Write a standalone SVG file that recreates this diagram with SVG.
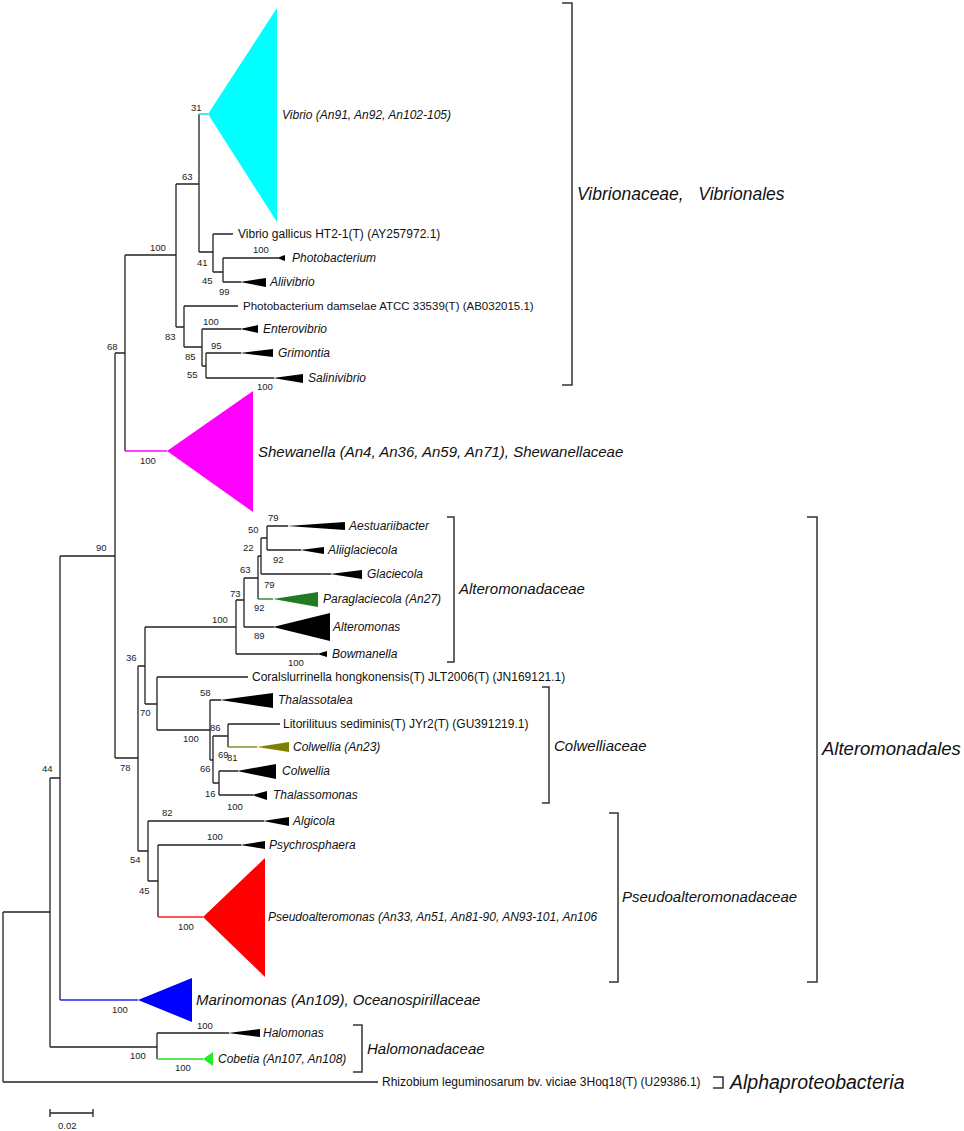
<svg xmlns="http://www.w3.org/2000/svg" width="964" height="1131" viewBox="0 0 964 1131">
<style>
.br{fill:none;stroke:#222;stroke-width:1.3}
.bk{fill:none;stroke:#333;stroke-width:1.5}
.bs{font-family:"Liberation Sans",Arial,sans-serif;font-size:9.5px;fill:#222}
.tx{font-family:"Liberation Sans",Arial,sans-serif;font-size:12px;font-style:italic;fill:#111}
.tn{font-family:"Liberation Sans",Arial,sans-serif;font-size:12px;fill:#111}
.big{font-family:"Liberation Sans",Arial,sans-serif;font-size:15px;font-style:italic;fill:#111}
.grp{font-family:"Liberation Sans",Arial,sans-serif;font-size:17.5px;font-style:italic;fill:#111}
</style>
<rect width="964" height="1131" fill="#fff"/>
<g id="connectors">
<path class="br" d="M3 912V1082M3 912H50M3 1082H378"/>
<path class="br" d="M50 778V1047M50 778H60M50 1047H157"/>
<path class="br" d="M60 556V1000M60 556H115"/>
<path class="br" d="M115 353V758M115 353H125M115 758H138"/>
<path class="br" d="M125 255V451M125 255H176"/>
<path class="br" d="M176 184V327M176 184H199M176 327H184"/>
<path class="br" d="M199 114V252M199 252H213"/>
<path class="br" d="M213 234V272M213 234H233M213 272H223"/>
<path class="br" d="M223 258V282M223 258H278M223 282H241"/>
<path class="br" d="M184 306V347M184 306H238M184 347H202"/>
<path class="br" d="M202 329V366M202 329H241M202 366H206"/>
<path class="br" d="M206 353V378M206 353H241M206 378H274"/>
<path class="br" d="M138 666V851M138 666H145M138 851H148"/>
<path class="br" d="M145 627V704M145 627H236M145 704H157"/>
<path class="br" d="M236 600V654M236 600H244M236 654H318"/>
<path class="br" d="M244 578V627M244 578H258M244 627H274"/>
<path class="br" d="M258 556V599M258 556H261"/>
<path class="br" d="M261 538V574M261 538H267M261 574H331"/>
<path class="br" d="M267 526V550M267 526H288M267 550H301"/>
<path class="br" d="M157 677V730M157 677H248M157 730H210"/>
<path class="br" d="M210 700V760M210 700H221M210 760H213"/>
<path class="br" d="M213 736V783M213 736H228M213 783H219"/>
<path class="br" d="M228 724V747M228 724H280"/>
<path class="br" d="M219 771V795M219 771H238M219 795H253"/>
<path class="br" d="M148 821V881M148 821H264M148 881H158"/>
<path class="br" d="M158 845V917M158 845H241"/>
<path class="br" d="M157 1033V1059M157 1033H229"/>
<path fill="none" stroke="#00e5ee" stroke-width="1.5" d="M199 114H208"/>
<path fill="none" stroke="#ff00ff" stroke-width="1.5" d="M125 451H167"/>
<path fill="none" stroke="#ff2020" stroke-width="1.5" d="M158 917H203"/>
<path fill="none" stroke="#2020ff" stroke-width="1.5" d="M60 1000H138"/>
<path fill="none" stroke="#22dd22" stroke-width="1.5" d="M157 1059H203"/>
<path fill="none" stroke="#1f7a1f" stroke-width="1.3" d="M258 599H273"/>
<path fill="none" stroke="#7a7a10" stroke-width="1.3" d="M228 747H257"/>
</g>
<g id="n-vibrio"><polygon points="208,114 277,8 277,222" fill="#00ffff"/><text class="tx" x="282" y="119">Vibrio (An91, An92, An102-105)</text></g>
<g id="n-vgallicus"><text class="tn" x="238" y="238">Vibrio gallicus HT2-1(T) (AY257972.1)</text></g>
<g id="n-photobacterium"><polygon points="277,258 285,255 285,261" fill="#000"/><text class="tx" x="292" y="262">Photobacterium</text></g>
<g id="n-aliivibrio"><polygon points="240,282 266,278 266,287" fill="#000"/><text class="tx" x="270" y="286">Aliivibrio</text></g>
<g id="n-pdamselae"><text class="tn" x="243" y="310" style="font-size:11.5px">Photobacterium damselae ATCC 33539(T) (AB032015.1)</text></g>
<g id="n-enterovibrio"><polygon points="240,329 258,325 258,333" fill="#000"/><text class="tx" x="263" y="333">Enterovibrio</text></g>
<g id="n-grimontia"><polygon points="240,353 273,349 273,357" fill="#000"/><text class="tx" x="278" y="357">Grimontia</text></g>
<g id="n-salinivibrio"><polygon points="273,378 303,374 303,383" fill="#000"/><text class="tx" x="308" y="382">Salinivibrio</text></g>
<g id="n-shewanella"><polygon points="167,451 253,391 253,512" fill="#ff00ff"/><text class="big" x="258" y="457">Shewanella (An4, An36, An59, An71), Shewanellaceae</text></g>
<g id="n-aestuariibacter"><polygon points="287,526 345,522 345,530" fill="#000"/><text class="tx" x="349" y="530">Aestuariibacter</text></g>
<g id="n-aliiglaciecola"><polygon points="300,550 324,547 324,554" fill="#000"/><text class="tx" x="328" y="554">Aliiglaciecola</text></g>
<g id="n-glaciecola"><polygon points="330,574 362,570 362,579" fill="#000"/><text class="tx" x="367" y="578">Glaciecola</text></g>
<g id="n-paraglaciecola"><polygon points="273,599 318,592 318,607" fill="#217a21"/><text class="tx" x="323" y="603">Paraglaciecola (An27)</text></g>
<g id="n-alteromonas"><polygon points="273,627 330,613 330,641" fill="#000"/><text class="tx" x="333" y="631">Alteromonas</text></g>
<g id="n-bowmanella"><polygon points="317,654 327,651 327,657" fill="#000"/><text class="tx" x="332" y="658">Bowmanella</text></g>
<g id="n-coralslurrinella"><text class="tn" x="252" y="681">Coralslurrinella hongkonensis(T) JLT2006(T) (JN169121.1)</text></g>
<g id="n-thalassotalea"><polygon points="220,700 273,693 273,708" fill="#000"/><text class="tx" x="278" y="704">Thalassotalea</text></g>
<g id="n-litorilituus"><text class="tn" x="283" y="728">Litorilituus sediminis(T) JYr2(T) (GU391219.1)</text></g>
<g id="n-colwellia-an23"><polygon points="257,747 289,742 289,752" fill="#808000"/><text class="tx" x="293" y="751">Colwellia (An23)</text></g>
<g id="n-colwellia"><polygon points="237,771 276,764 276,779" fill="#000"/><text class="tx" x="282" y="775">Colwellia</text></g>
<g id="n-thalassomonas"><polygon points="252,795 267,791 267,800" fill="#000"/><text class="tx" x="273" y="799">Thalassomonas</text></g>
<g id="n-algicola"><polygon points="263,821 289,817 289,826" fill="#000"/><text class="tx" x="293" y="825">Algicola</text></g>
<g id="n-psychrosphaera"><polygon points="240,845 265,841 265,849" fill="#000"/><text class="tx" x="269" y="849">Psychrosphaera</text></g>
<g id="n-pseudoalteromonas"><polygon points="203,917 265,858 265,977" fill="#ff0000"/><text class="tx" x="268" y="921">Pseudoalteromonas (An33, An51, An81-90, AN93-101, An106</text></g>
<g id="n-marinomonas"><polygon points="138,1000 192,978 192,1022" fill="#0000ff"/><text class="big" x="196" y="1005">Marinomonas (An109), Oceanospirillaceae</text></g>
<g id="n-halomonas"><polygon points="228,1033 260,1029 260,1037" fill="#000"/><text class="tx" x="263" y="1037">Halomonas</text></g>
<g id="n-cobetia"><polygon points="203,1059 213,1052 213,1066" fill="#22ee22"/><text class="tx" x="218" y="1063">Cobetia (An107, An108)</text></g>
<g id="n-rhizobium"><text class="tn" x="382" y="1086">Rhizobium leguminosarum bv. viciae 3Hoq18(T) (U29386.1)</text></g>
<g id="bootstrap">
<text class="bs" x="191" y="111">31</text>
<text class="bs" x="182" y="180">63</text>
<text class="bs" x="150" y="251">100</text>
<text class="bs" x="197" y="266">41</text>
<text class="bs" x="253" y="253">100</text>
<text class="bs" x="202" y="284">45</text>
<text class="bs" x="219" y="295">99</text>
<text class="bs" x="107" y="350">68</text>
<text class="bs" x="165" y="340">83</text>
<text class="bs" x="203" y="325">100</text>
<text class="bs" x="185" y="360">85</text>
<text class="bs" x="211" y="349">95</text>
<text class="bs" x="187" y="378">55</text>
<text class="bs" x="257" y="390">100</text>
<text class="bs" x="140" y="464">100</text>
<text class="bs" x="96" y="551">90</text>
<text class="bs" x="268" y="521">79</text>
<text class="bs" x="248" y="533">50</text>
<text class="bs" x="243" y="551">22</text>
<text class="bs" x="273" y="563">92</text>
<text class="bs" x="240" y="573">63</text>
<text class="bs" x="264" y="588">79</text>
<text class="bs" x="230" y="597">73</text>
<text class="bs" x="254" y="611">92</text>
<text class="bs" x="212" y="623">100</text>
<text class="bs" x="254" y="639">89</text>
<text class="bs" x="288" y="666">100</text>
<text class="bs" x="126" y="661">36</text>
<text class="bs" x="200" y="696">58</text>
<text class="bs" x="140" y="716">70</text>
<text class="bs" x="210" y="731">86</text>
<text class="bs" x="183" y="742">100</text>
<text class="bs" x="227" y="761">81</text>
<text class="bs" x="218" y="758">69</text>
<text class="bs" x="200" y="772">66</text>
<text class="bs" x="120" y="771">78</text>
<text class="bs" x="42" y="772">44</text>
<text class="bs" x="205" y="797">16</text>
<text class="bs" x="227" y="810">100</text>
<text class="bs" x="162" y="816">82</text>
<text class="bs" x="207" y="840">100</text>
<text class="bs" x="130" y="863">54</text>
<text class="bs" x="139" y="894">45</text>
<text class="bs" x="178" y="930">100</text>
<text class="bs" x="112" y="1013">100</text>
<text class="bs" x="197" y="1029">100</text>
<text class="bs" x="130" y="1059">100</text>
<text class="bs" x="175" y="1071">100</text>
</g>
<g id="b-vibrionaceae"><path class="bk" d="M562 3H572V385H562"/><text class="grp" x="577" y="200" xml:space="preserve">Vibrionaceae,   Vibrionales</text></g>
<g id="b-alteromonadaceae"><path class="bk" d="M447 517H454V662H447"/><text class="big" x="459" y="594">Alteromonadaceae</text></g>
<g id="b-colwelliaceae"><path class="bk" d="M542 687H549V803H542"/><text class="big" x="554" y="751">Colwelliaceae</text></g>
<g id="b-pseudoalteromonadaceae"><path class="bk" d="M609 813H618V982H609"/><text class="big" x="622" y="902">Pseudoalteromonadaceae</text></g>
<g id="b-alteromonadales"><path class="bk" d="M807 517H817V982H807"/><text class="grp" x="822" y="755" style="font-size:18.5px">Alteromonadales</text></g>
<g id="b-halomonadaceae"><path class="bk" d="M353 1025H362V1072H353"/><text class="big" x="367" y="1054">Halomonadaceae</text></g>
<g id="b-alphaproteobacteria"><path class="bk" d="M713 1077H723V1088H713"/><text class="grp" x="730" y="1089" style="font-size:19.5px">Alphaproteobacteria</text></g>
<g id="scalebar"><path class="br" d="M50 1113H93M50 1109V1117M93 1109V1117"/><text class="bs" x="58" y="1129">0.02</text></g>
</svg>
